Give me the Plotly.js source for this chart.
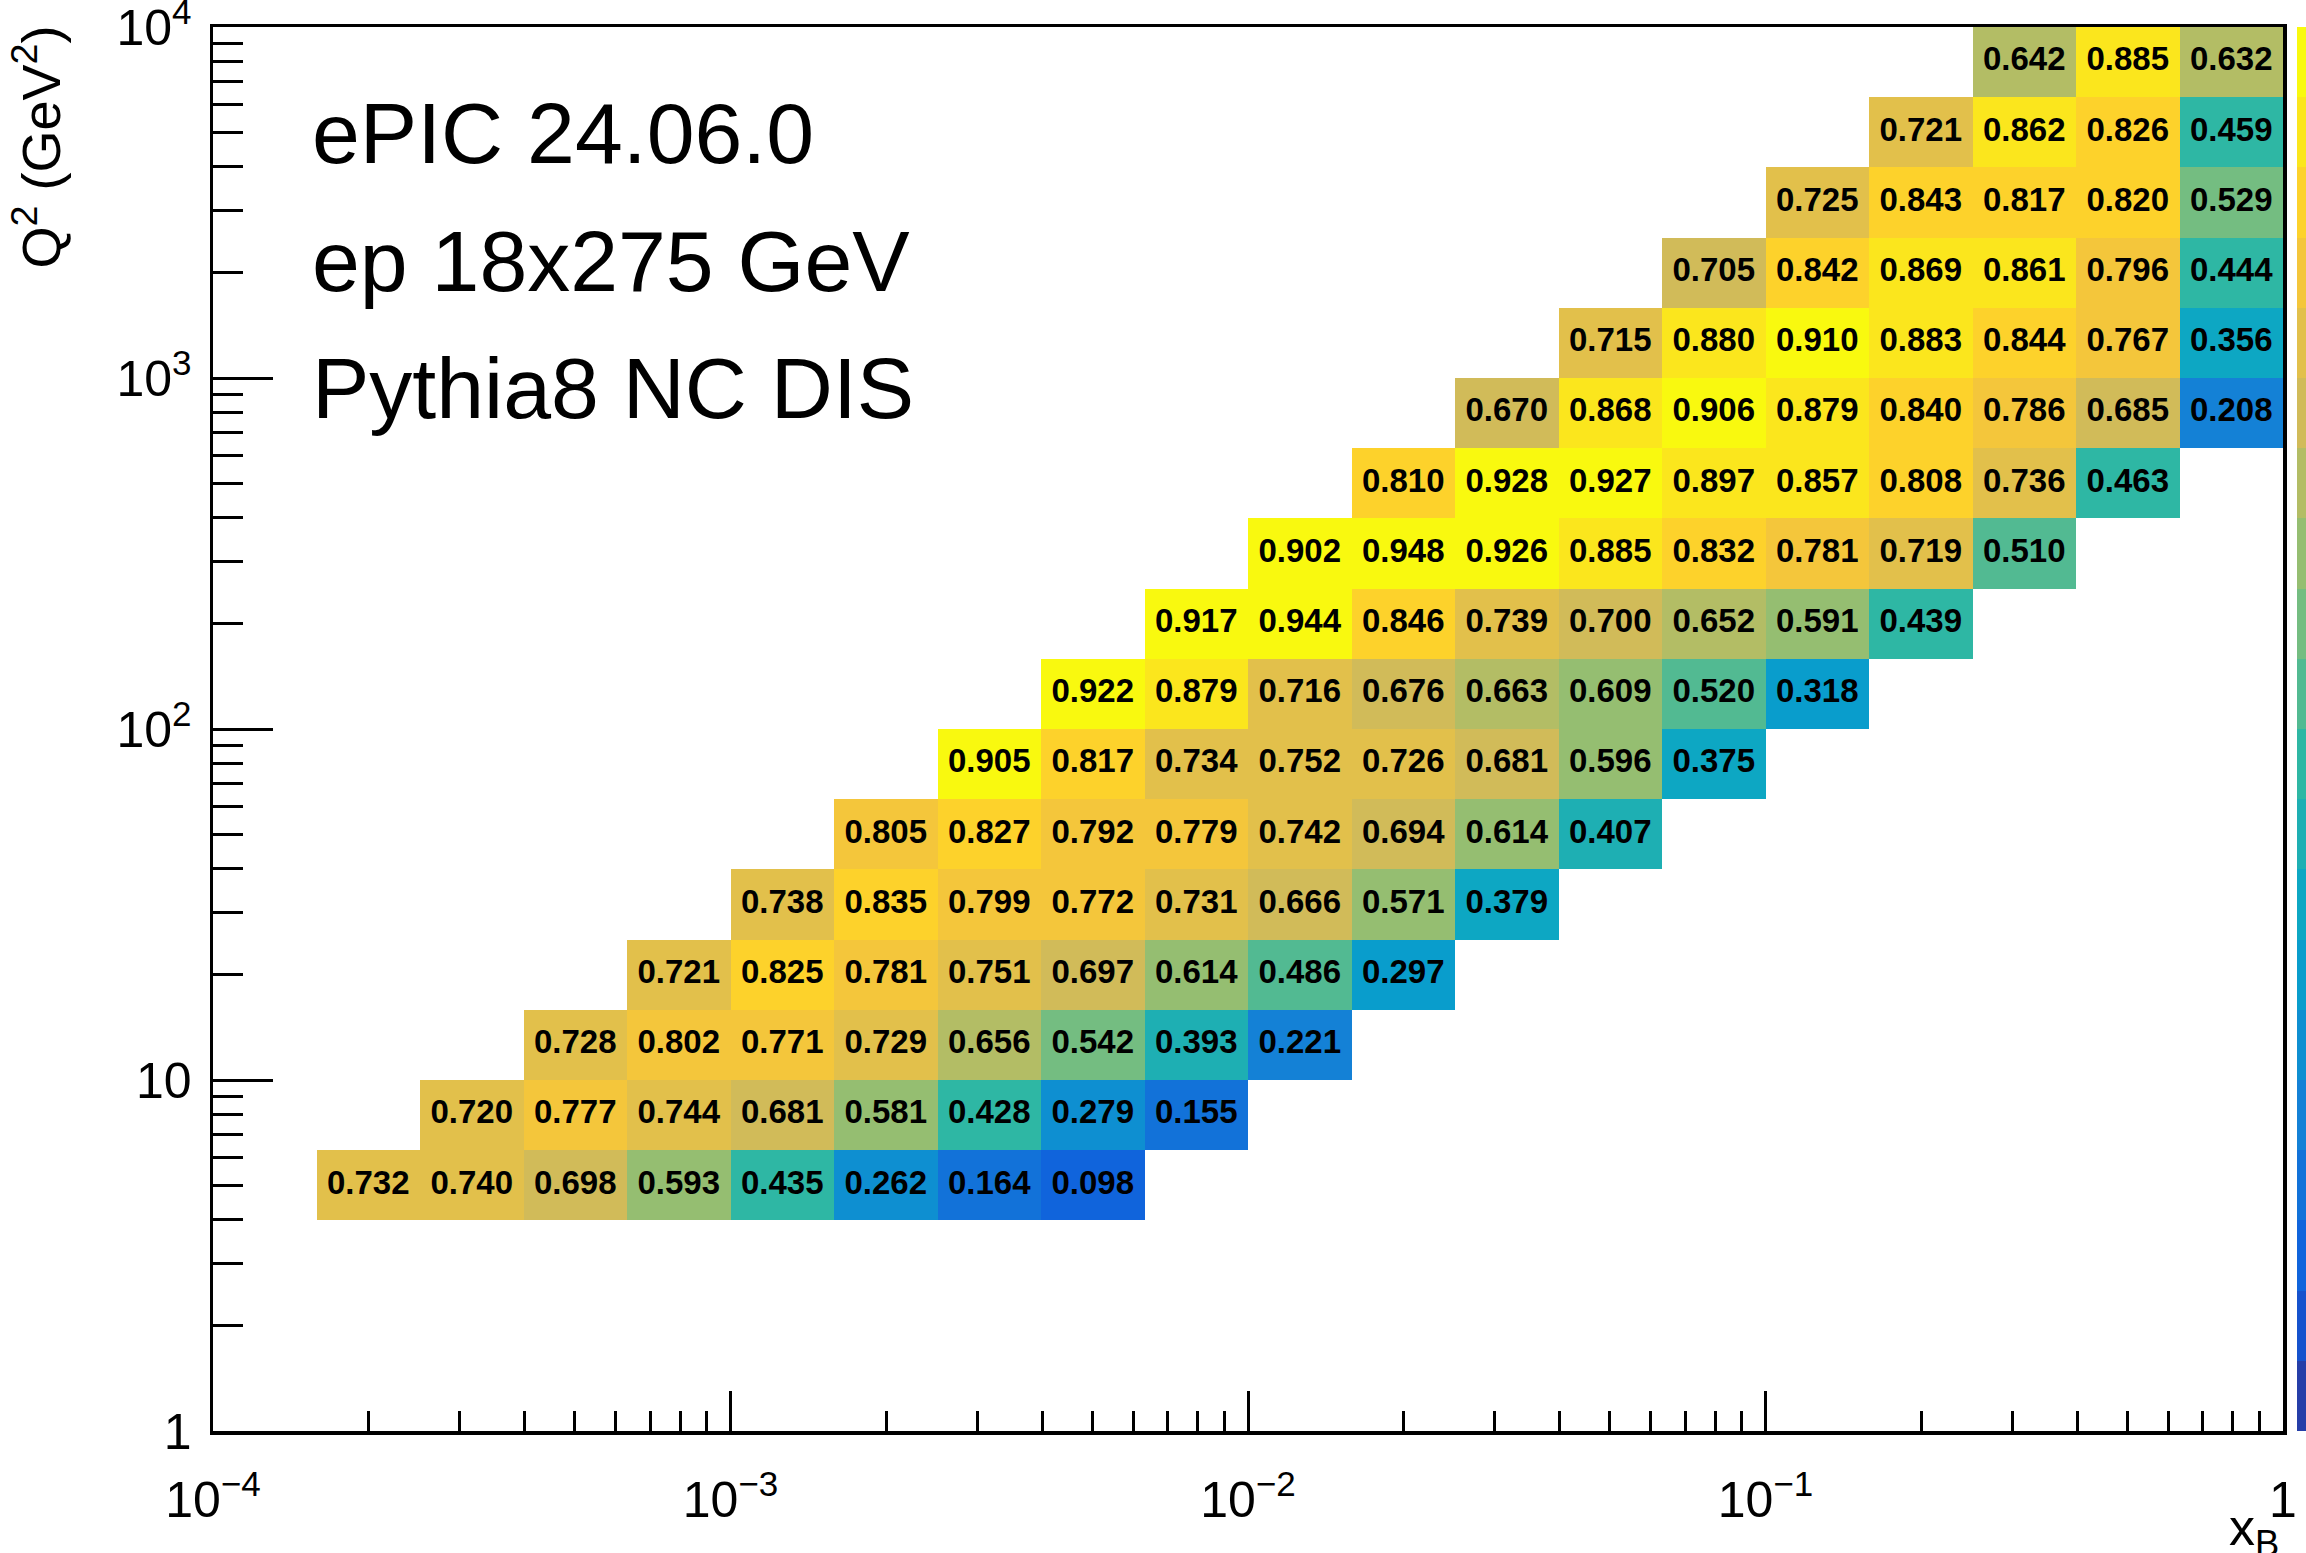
<!DOCTYPE html>
<html>
<head>
<meta charset="utf-8">
<script src="https://cdn.plot.ly/plotly-3.0.1.min.js"></script>
<style>
  html, body { margin: 0; padding: 0; background: #ffffff; }
  #chart { width: 2306px; height: 1553px; }
</style>
</head>
<body>
<div id="chart"></div>
<script>
// Binning: log-uniform, 5 bins per decade
const xDecades = [-4, 0];            // x_B from 1e-4 to 1
const q2Decades = [0, 4];            // Q^2 from 1 to 1e4 GeV^2
const binsPerDecade = 5;

// Efficiency per Q^2 bin (bin index counted from Q^2 = 1), listed from the first filled x_B bin
const effQ2Bin03 = [0.732, 0.740, 0.698, 0.593, 0.435, 0.262, 0.164, 0.098];
const effQ2Bin04 = [0.720, 0.777, 0.744, 0.681, 0.581, 0.428, 0.279, 0.155];
const effQ2Bin05 = [0.728, 0.802, 0.771, 0.729, 0.656, 0.542, 0.393, 0.221];
const effQ2Bin06 = [0.721, 0.825, 0.781, 0.751, 0.697, 0.614, 0.486, 0.297];
const effQ2Bin07 = [0.738, 0.835, 0.799, 0.772, 0.731, 0.666, 0.571, 0.379];
const effQ2Bin08 = [0.805, 0.827, 0.792, 0.779, 0.742, 0.694, 0.614, 0.407];
const effQ2Bin09 = [0.905, 0.817, 0.734, 0.752, 0.726, 0.681, 0.596, 0.375];
const effQ2Bin10 = [0.922, 0.879, 0.716, 0.676, 0.663, 0.609, 0.520, 0.318];
const effQ2Bin11 = [0.917, 0.944, 0.846, 0.739, 0.700, 0.652, 0.591, 0.439];
const effQ2Bin12 = [0.902, 0.948, 0.926, 0.885, 0.832, 0.781, 0.719, 0.510];
const effQ2Bin13 = [0.810, 0.928, 0.927, 0.897, 0.857, 0.808, 0.736, 0.463];
const effQ2Bin14 = [0.670, 0.868, 0.906, 0.879, 0.840, 0.786, 0.685, 0.208];
const effQ2Bin15 = [0.715, 0.880, 0.910, 0.883, 0.844, 0.767, 0.356];
const effQ2Bin16 = [0.705, 0.842, 0.869, 0.861, 0.796, 0.444];
const effQ2Bin17 = [0.725, 0.843, 0.817, 0.820, 0.529];
const effQ2Bin18 = [0.721, 0.862, 0.826, 0.459];
const effQ2Bin19 = [0.642, 0.885, 0.632];

// Q^2 bin index and the first filled x_B bin of each row
const rowQ2Bin   = [3, 4, 5, 6, 7, 8, 9, 10, 11, 12, 13, 14, 15, 16, 17, 18, 19];
const rowFirstX  = [1, 2, 3, 4, 5, 6, 7, 8, 9, 10, 11, 12, 13, 14, 15, 16, 17];
const rowValues  = [effQ2Bin03, effQ2Bin04, effQ2Bin05, effQ2Bin06, effQ2Bin07, effQ2Bin08,
                    effQ2Bin09, effQ2Bin10, effQ2Bin11, effQ2Bin12, effQ2Bin13, effQ2Bin14,
                    effQ2Bin15, effQ2Bin16, effQ2Bin17, effQ2Bin18, effQ2Bin19];

// Axis tick labels
const xTickVals = [1e-4, 1e-3, 1e-2, 1e-1, 1];
const xTickText = ['10<sup>\u22124</sup>', '10<sup>\u22123</sup>', '10<sup>\u22122</sup>', '10<sup>\u22121</sup>', '1'];
const yTickVals = [1, 10, 100, 1000, 10000];
const yTickText = ['1', '10', '10<sup>2</sup>', '10<sup>3</sup>', '10<sup>4</sup>'];

// Labels
const infoLines = ['ePIC 24.06.0', 'ep 18x275 GeV', 'Pythia8 NC DIS'];
const xTitle = 'x<sub>B</sub>';
const yTitle = 'Q<sup>2</sup> (GeV<sup>2</sup>)';

// ---- bin edges ----
function edges(dec) {
  const n = (dec[1] - dec[0]) * binsPerDecade;
  const e = [];
  for (let i = 0; i <= n; i++) e.push(Math.pow(10, dec[0] + i / binsPerDecade));
  return e;
}
const xEdges = edges(xDecades);
const yEdges = edges(q2Decades);
const nX = xEdges.length - 1, nY = yEdges.length - 1;

// ---- z matrix (null = empty bin) ----
const z = [];
for (let j = 0; j < nY; j++) z.push(new Array(nX).fill(null));
rowQ2Bin.forEach((jb, r) => {
  rowValues[r].forEach((v, k) => { z[jb][rowFirstX[r] + k] = v; });
});

// ---- cell labels at bin centres ----
const txtX = [], txtY = [], txtS = [];
let zMax = 0;
for (let j = 0; j < nY; j++) {
  for (let i = 0; i < nX; i++) {
    const v = z[j][i];
    if (v === null) continue;
    zMax = Math.max(zMax, v);
    txtX.push(Math.sqrt(xEdges[i] * xEdges[i + 1]));
    txtY.push(Math.sqrt(yEdges[j] * yEdges[j + 1]));
    txtS.push(v.toFixed(3));
  }
}

// ---- "bird" palette, 255 colours, drawn with 20 contour levels ----
const birdStops = [0.0000, 0.1250, 0.2500, 0.3750, 0.5000, 0.6250, 0.7500, 0.8750, 1.0000];
const birdR = [0.2082, 0.0592, 0.0780, 0.0232, 0.1802, 0.5301, 0.8186, 0.9956, 0.9764];
const birdG = [0.1664, 0.3599, 0.5041, 0.6419, 0.7178, 0.7492, 0.7328, 0.7862, 0.9832];
const birdB = [0.5293, 0.8684, 0.8385, 0.7914, 0.6425, 0.4662, 0.3499, 0.1968, 0.0539];
const nPalette = 255, nContours = 20;

function gradientTable() {
  const table = [];
  for (let g = 1; g < birdStops.length; g++) {
    const n = Math.floor(nPalette * birdStops[g]) - Math.floor(nPalette * birdStops[g - 1]);
    for (let c = 0; c < n; c++) {
      const f = c / n;
      const r = birdR[g - 1] + (birdR[g] - birdR[g - 1]) * f;
      const gg = birdG[g - 1] + (birdG[g] - birdG[g - 1]) * f;
      const b = birdB[g - 1] + (birdB[g] - birdB[g - 1]) * f;
      table.push('rgb(' + Math.round(r * 255) + ',' + Math.round(gg * 255) + ',' + Math.round(b * 255) + ')');
    }
  }
  return table;
}
const palette = gradientTable();
const colorscale = [];
for (let k = 0; k < nContours; k++) {
  const c = palette[Math.min(palette.length - 1, Math.floor((k + 0.99) * nPalette / nContours))];
  colorscale.push([k / nContours, c]);
  colorscale.push([(k + 1) / nContours, c]);
}

// ---- geometry of the frame ----
const W = 2306, H = 1553;
const M = { l: 213, r: 23, t: 27, b: 122, autoexpand: false };
const plotW = W - M.l - M.r, plotH = H - M.t - M.b;
const px2x = p => (p - M.l) / plotW;
const px2y = p => 1 - (p - M.t) / plotH;
const eps = 1e-7;   // keeps the end decades inside the tick filter

function minorTicks(dec) {
  const v = [];
  for (let d = dec[0]; d < dec[1]; d++) for (let m = 2; m <= 9; m++) v.push(m * Math.pow(10, d));
  return v;
}

const font = 'Liberation Sans, Arial, Helvetica, sans-serif';

const heat = {
  type: 'heatmap',
  x: xEdges,
  y: yEdges,
  z: z,
  zmin: 0,
  zmax: zMax,
  zauto: false,
  colorscale: colorscale,
  hoverinfo: 'skip',
  colorbar: {
    x: px2x(2297), xanchor: 'left', xref: 'paper',
    y: 0.5, yanchor: 'middle', len: 1, lenmode: 'fraction',
    thickness: 80, xpad: 0, ypad: 0,
    outlinewidth: 0, ticks: '', showticklabels: false
  }
};

const labels = {
  type: 'scatter',
  mode: 'text',
  x: txtX,
  y: txtY,
  text: txtS,
  textposition: 'middle center',
  textfont: { family: font, size: 33, color: '#000000', weight: 'bold' },
  hoverinfo: 'skip',
  showlegend: false,
  cliponaxis: false
};

const annotations = infoLines.map((t, i) => ({
  text: t,
  xref: 'paper', yref: 'paper',
  x: px2x(310), y: px2y(133 + 127.5 * i),
  xanchor: 'left', yanchor: 'middle',
  showarrow: false,
  font: { family: font, size: 86, color: '#000000' }
}));
annotations.push({
  text: xTitle,
  xref: 'paper', yref: 'paper',
  x: px2x(2281), y: px2y(1496),
  xanchor: 'right', yanchor: 'top',
  showarrow: false,
  font: { family: font, size: 52, color: '#000000' }
});
annotations.push({
  text: yTitle,
  xref: 'paper', yref: 'paper',
  x: px2x(37), y: px2y(24),
  xanchor: 'center', yanchor: 'top',
  textangle: -90,
  showarrow: false,
  font: { family: font, size: 54, color: '#000000' }
});

const axisCommon = {
  type: 'log',
  showgrid: false,
  zeroline: false,
  showline: true,
  linecolor: '#000000',
  linewidth: 3.5,
  mirror: true,
  ticks: 'inside',
  tickcolor: '#000000',
  tickwidth: 3,
  tickmode: 'array',
  tickfont: { family: font, size: 50, color: '#000000' },
  ticklabeloverflow: 'allow',
  layer: 'below traces',
  automargin: false,
  fixedrange: true
};

const layout = {
  width: W, height: H,
  margin: M,
  paper_bgcolor: '#ffffff',
  plot_bgcolor: '#ffffff',
  showlegend: false,
  font: { family: font, color: '#000000' },
  xaxis: Object.assign({}, axisCommon, {
    range: [xDecades[0] - eps, xDecades[1] + eps],
    tickvals: xTickVals, ticktext: xTickText,
    ticklen: 40,
    ticklabelstandoff: 22,
    minor: { tickmode: 'array', tickvals: minorTicks(xDecades), ticks: 'inside',
             ticklen: 20, tickwidth: 3, tickcolor: '#000000', showgrid: false }
  }),
  yaxis: Object.assign({}, axisCommon, {
    range: [q2Decades[0] - eps, q2Decades[1] + eps],
    tickvals: yTickVals, ticktext: yTickText,
    ticklen: 60,
    ticklabelstandoff: 8,
    minor: { tickmode: 'array', tickvals: minorTicks(q2Decades), ticks: 'inside',
             ticklen: 30, tickwidth: 3, tickcolor: '#000000', showgrid: false }
  }),
  annotations: annotations
};

Plotly.newPlot('chart', [heat, labels], layout, { displayModeBar: false, staticPlot: true });
</script>
</body>
</html>
